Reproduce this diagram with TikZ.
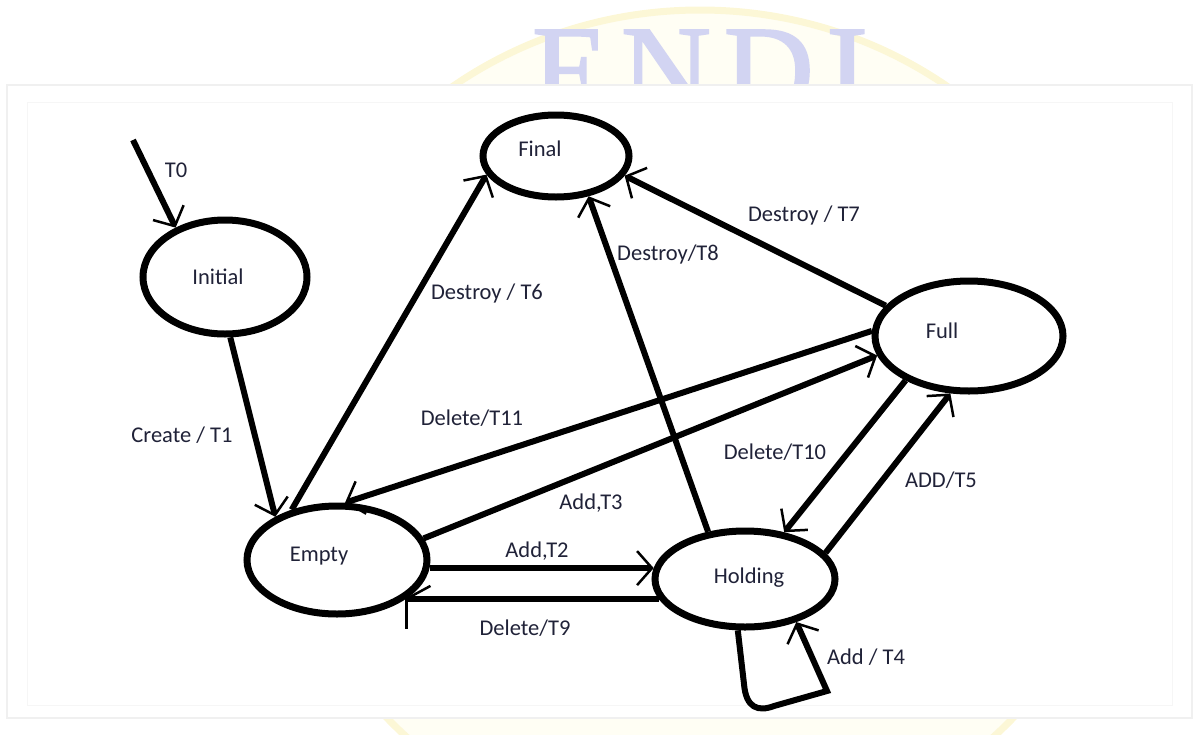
\documentclass[tikz,border=0pt]{standalone}
\usepackage{fontspec}
\setmainfont{Carlito}
\newfontfamily\wmfont[LetterSpace=10,FakeBold=1.5]{Liberation Serif}
\usetikzlibrary{shapes.geometric,arrows.meta}
\definecolor{ink}{RGB}{32,34,56}
\definecolor{wmletter}{RGB}{210,212,242}
\definecolor{wmfill}{RGB}{255,254,244}
\definecolor{wmrim}{RGB}{252,247,214}
\definecolor{panelline}{RGB}{240,240,240}
\begin{document}
\begin{tikzpicture}[x=1pt,y=-1pt,
  state/.style={draw,ellipse,line width=7pt,inner sep=0pt,fill=white},
  lbl/.style={text=ink,font=\fontsize{22.5}{26}\selectfont,inner sep=0pt},
  wm/.style={text=wmletter,font=\wmfont\fontsize{125}{125}\selectfont,inner sep=0pt,anchor=base},
  edge/.style={line width=6pt,-{Straight Barb[length=15pt,width=34pt,line width=2.5pt]}},
  barb/.style={line width=2.5pt},
]
\useasboundingbox (0,0) rectangle (1199,734);

% faint seal watermark behind the sheet
\fill[wmfill] (700,430) ellipse [x radius=430, y radius=420];
\draw[wmrim,line width=7pt] (700,430) ellipse [x radius=430, y radius=420];
\node[wm] (wmark) at (700,112) {ENDI};

% the sheet
\fill[white] (7,85) rectangle (1192,718);
\draw[panelline,line width=1.5pt] (7,85) rectangle (1192,718);
\draw[panelline!60,line width=1pt] (27,102) rectangle (1172,705);

% states
\node[state,minimum width=164pt,minimum height=114pt] (initial) at (225,277) {};
\node[state,minimum width=146pt,minimum height=82pt] (final) at (556,156) {};
\node[state,minimum width=188pt,minimum height=110pt] (full) at (969,336) {};
\node[state,minimum width=180pt,minimum height=108pt] (empty) at (337,560) {};
\node[state,minimum width=180pt,minimum height=96pt] (holding) at (745,579) {};

\node[lbl] (initial-t) at (218,277) {Initial};
\node[lbl] (final-t) at (540,149) {Final};
\node[lbl] (full-t) at (942,331) {Full};
\node[lbl] (empty-t) at (319,556) {Empty};
\node[lbl] (holding-t) at (749,578) {Holding};

% transitions
\coordinate (start) at (133,140);
\draw[edge] (start) -- (initial.135);
\draw[edge] (initial.-85) -- (empty.145);
\draw[edge] (empty.132) -- (final.-165);
\draw[edge] (holding.128) -- (final.-51);
\draw[edge] (full.160) -- (final.-16);
\draw[edge] (full.177) -- (empty.82);
\draw[edge] (empty.14) -- (full.-168);
\coordinate (e2) at (empty.-5);
\draw[edge] (e2) -- (e2 -| holding.173);
\coordinate (h9) at (holding.-167);
\coordinate (e9) at (h9 -| empty.-29);
\draw[line width=6pt] (h9) -- (e9);
\draw[barb] (e9) -- ++(24,-13);
\draw[barb] (e9) -- ++(0,30);
\draw[edge] (full.-145) -- (holding.50);
\draw[edge] (holding.18) -- (full.-108);
\coordinate (loopa) at (744,684);
\coordinate (loopb) at (774,706);
\coordinate (loopc) at (827,691);
\draw[edge] (holding.-98) -- (loopa) .. controls (746,708) and (758,712) .. (loopb) -- (loopc) -- (holding.-40);

% transition labels
\node[lbl] (t0) at (176,170) {T0};
\node[lbl] (t1) at (182,435) {Create / T1};
\node[lbl] (t6) at (487,293) {Destroy / T6};
\node[lbl] (t8) at (668,254) {Destroy/T8};
\node[lbl] (t7) at (804,215) {Destroy / T7};
\node[lbl] (t11) at (472,418) {Delete/T11};
\node[lbl] (t10) at (775,452) {Delete/T10};
\node[lbl] (t3) at (591,503) {Add,T3};
\node[lbl] (t5) at (941,480) {ADD/T5};
\node[lbl] (t2) at (537,551) {Add,T2};
\node[lbl] (t9) at (525,628) {Delete/T9};
\node[lbl] (t4) at (866,657) {Add / T4};
\end{tikzpicture}
\end{document}
